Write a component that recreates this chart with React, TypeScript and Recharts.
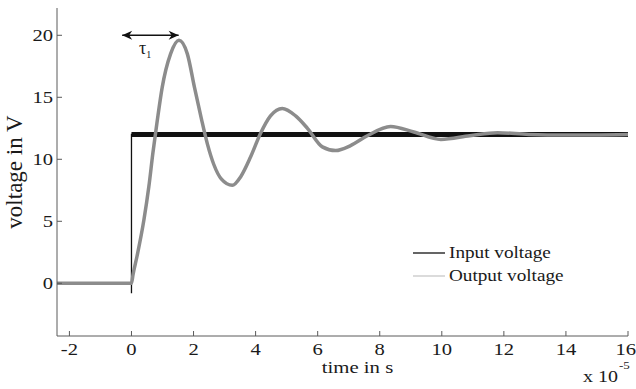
import {
  LineChart,
  Line,
  XAxis,
  YAxis,
  Legend,
  Label,
  ReferenceLine,
  ReferenceDot,
} from "recharts";

// time axis in units of 1e-5 s
const X_TICKS = [-2, 0, 2, 4, 6, 8, 10, 12, 14, 16];
const Y_TICKS = [0, 5, 10, 15, 20];

// step input
const INPUT_T = [-2.4, 0, 0, 0, 16];
const INPUT_V = [0, 0, -0.8, 12, 12];

// damped output response
const OUTPUT_T = [
  -2.4, -1.2, 0, 0.05, 0.18, 0.4, 0.56, 0.69, 0.83, 0.99, 1.26, 1.53, 1.8,
  2.03, 2.25, 2.45, 2.65, 2.9, 3.25, 3.52, 3.84, 4.16, 4.48, 4.86, 5.29, 5.67,
  6.15, 6.58, 7.06, 7.6, 8.35, 9.1, 9.97, 10.9, 11.8, 12.8, 14, 16,
];
const OUTPUT_V = [
  0, 0, 0, 0.7, 2.2, 5.1, 7.8, 10.5, 13.1, 15.8, 18.5, 19.6, 18.5, 15.8, 13.3,
  11.2, 9.6, 8.4, 7.9, 8.6, 10.2, 12.1, 13.5, 14.1, 13.5, 12.5, 11.0, 10.7,
  11.1, 11.9, 12.65, 12.2, 11.6, 11.9, 12.15, 12.0, 11.95, 12.0,
];

const TAU_START = -0.3;
const TAU_END = 1.52;
const TAU_LEVEL = 20;
const TAU_TEXT_X = 0.44;

const FONT = '"Liberation Serif", "Times New Roman", serif';
const AXIS = "#5a5a5a";
const TEXT = "#1a1a1a";
const OUT_COLOR = "#8c8c8c";

const inputData = INPUT_T.map((t, i) => ({ t, v: INPUT_V[i] }));
const plateauData = inputData.filter((d, i) => i >= 3);
const outputData = OUTPUT_T.map((t, i) => ({ t, v: OUTPUT_V[i] }));

const WIDTH = 636;
const HEIGHT = 389;

function BottomTick({ x, y, payload }: any) {
  const last = payload.value === X_TICKS[X_TICKS.length - 1];
  return (
    <g>
      <line x1={x} x2={x} y1={y} y2={y - 5} stroke={AXIS} />
      <text
        transform={`translate(${last ? x + 8 : x},${y + 19}) scale(1.25,1)`}
        textAnchor={last ? "end" : "middle"}
        fontSize={16.5}
        fontFamily={FONT}
        fill={TEXT}
      >
        {payload.value}
      </text>
    </g>
  );
}

function LeftTick({ x, y, payload }: any) {
  return (
    <g>
      <line x1={x} x2={x + 5} y1={y} y2={y} stroke={AXIS} />
      <text
        transform={`translate(${x - 4},${y + 5.5}) scale(1.25,1)`}
        textAnchor="end"
        fontSize={16.5}
        fontFamily={FONT}
        fill={TEXT}
      >
        {payload.value}
      </text>
    </g>
  );
}

function TopTick({ x, y }: any) {
  return <line x1={x} x2={x} y1={y} y2={y + 5} stroke={AXIS} />;
}

function RightTick({ x, y }: any) {
  return <line x1={x} x2={x - 5} y1={y} y2={y} stroke={AXIS} />;
}

function renderLegend() {
  return (
    <svg width={200} height={50}>
      <line x1={3} x2={35} y1={13} y2={13} stroke="#111" strokeWidth={1.3} />
      <text
        transform="translate(39,18) scale(1.2,1)"
        fontSize={16}
        fontFamily={FONT}
        fill={TEXT}
      >
        Input voltage
      </text>
      <line x1={3} x2={35} y1={36} y2={36} stroke="#c8c8c8" strokeWidth={1.3} />
      <text
        transform="translate(39,41) scale(1.2,1)"
        fontSize={16}
        fontFamily={FONT}
        fill={TEXT}
      >
        Output voltage
      </text>
    </svg>
  );
}

function XLabel({ viewBox }: any) {
  const cx = viewBox.x + viewBox.width / 2 + 15;
  const top = viewBox.y;
  return (
    <g fontFamily={FONT} fill={TEXT}>
      <text
        transform={`translate(${cx},${top + 37}) scale(1.3,1)`}
        textAnchor="middle"
        fontSize={16}
      >
        time in s
      </text>
      <text transform={`translate(583,${top + 46}) scale(1.25,1)`} fontSize={16}>
        x 10
      </text>
      <text transform={`translate(619,${top + 33}) scale(1.3,1)`} fontSize={10}>
        -5
      </text>
    </g>
  );
}

function YLabel({ viewBox }: any) {
  const cy = viewBox.y + viewBox.height / 2;
  return (
    <text
      transform={`translate(22,${cy}) rotate(-90)`}
      textAnchor="middle"
      fontSize={23}
      fontFamily={FONT}
      fill={TEXT}
    >
      voltage in V
    </text>
  );
}

function ArrowHead({ cx, cy, dir }: any) {
  const s = dir;
  return (
    <polygon
      points={`${cx},${cy} ${cx + s * 10},${cy - 4.5} ${cx + s * 7},${cy} ${cx + s * 10},${cy + 4.5}`}
      fill="#111"
    />
  );
}

function TauText({ cx, cy }: any) {
  return (
    <text x={cx} y={cy + 19} textAnchor="middle" fontSize={18} fontFamily={FONT} fill={TEXT}>
      τ<tspan fontSize={10} dy={4}>1</tspan>
    </text>
  );
}

export default function App() {
  return (
    <div style={{ width: WIDTH, height: HEIGHT, background: "#fff" }}>
      <style>{`body{margin:0}`}</style>
      <LineChart
        width={WIDTH}
        height={HEIGHT}
        margin={{ top: 8, right: 8, left: 7, bottom: 0 }}
      >
        <XAxis
          dataKey="t"
          type="number"
          domain={[-2.4, 16]}
          ticks={X_TICKS}
          interval={0}
          allowDataOverflow
          height={53}
          tickSize={0}
          tickMargin={0}
          tickLine={false}
          tick={<BottomTick />}
          axisLine={{ stroke: AXIS }}
        >
          <Label content={<XLabel />} />
        </XAxis>
        <XAxis
          xAxisId="top"
          orientation="top"
          dataKey="t"
          type="number"
          domain={[-2.4, 16]}
          ticks={X_TICKS}
          interval={0}
          allowDataOverflow
          height={0}
          tickSize={0}
          tickMargin={0}
          tickLine={false}
          tick={<TopTick />}
          axisLine={{ stroke: AXIS }}
        />
        <YAxis
          type="number"
          domain={[-4.25, 22.2]}
          ticks={Y_TICKS}
          interval={0}
          allowDataOverflow
          width={50}
          tickSize={0}
          tickMargin={0}
          tickLine={false}
          tick={<LeftTick />}
          axisLine={{ stroke: AXIS }}
        >
          <Label content={<YLabel />} />
        </YAxis>
        <YAxis
          yAxisId="right"
          orientation="right"
          type="number"
          domain={[-4.25, 22.2]}
          ticks={Y_TICKS}
          interval={0}
          allowDataOverflow
          width={0}
          tickSize={0}
          tickMargin={0}
          tickLine={false}
          tick={<RightTick />}
          axisLine={{ stroke: AXIS }}
        />
        <Line
          data={inputData}
          dataKey="v"
          type="linear"
          stroke="#111"
          strokeWidth={1.3}
          dot={false}
          isAnimationActive={false}
        />
        <Line
          data={plateauData}
          dataKey="v"
          type="linear"
          stroke="#111"
          strokeWidth={5}
          dot={false}
          isAnimationActive={false}
        />
        <Line
          data={outputData}
          dataKey="v"
          type="monotone"
          stroke={OUT_COLOR}
          strokeWidth={3.5}
          dot={false}
          isAnimationActive={false}
        />
        <ReferenceLine
          segment={[
            { x: TAU_START, y: TAU_LEVEL },
            { x: TAU_END, y: TAU_LEVEL },
          ]}
          stroke="#111"
          strokeWidth={1.6}
        />
        <ReferenceDot x={TAU_START} y={TAU_LEVEL} r={0} shape={(p: any) => <ArrowHead {...p} dir={1} />} />
        <ReferenceDot x={TAU_END} y={TAU_LEVEL} r={0} shape={(p: any) => <ArrowHead {...p} dir={-1} />} />
        <ReferenceDot x={TAU_TEXT_X} y={TAU_LEVEL} r={0} shape={(p: any) => <TauText {...p} />} />
        <Legend
          layout="horizontal"
          verticalAlign="middle"
          align="center"
          content={renderLegend}
          wrapperStyle={{ left: 410, top: 240, width: 200, height: 50 }}
        />
      </LineChart>
    </div>
  );
}
